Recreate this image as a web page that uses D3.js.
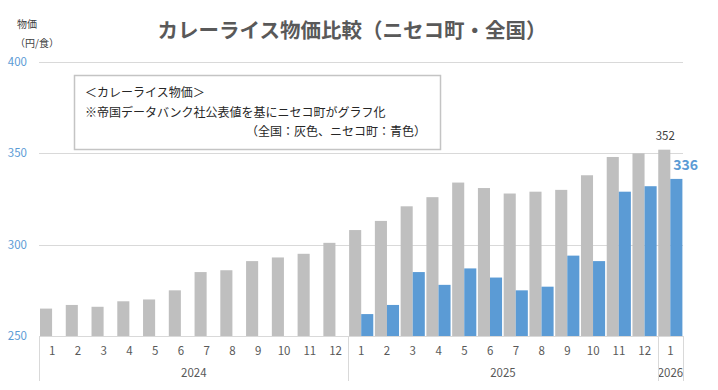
<!DOCTYPE html>
<meta charset="utf-8">
<title>カレーライス物価比較</title>
<style>
    body {
        margin: 0;
        font-family: "Noto Sans CJK JP", "Noto Sans", sans-serif;
        background: #fff;
    }

    .grid line,
    .axis-line {
        stroke: #d9d9d9;
        stroke-width: 1;
        shape-rendering: crispEdges;
    }
</style>

<body>
    <div id="chart"></div>
    <script src="https://d3js.org/d3.v7.min.js"></script>

    <script>
        // months along the x axis (2024-1 .. 2026-1)
        var months = ["1", "2", "3", "4", "5", "6", "7", "8", "9", "10", "11", "12",
            "1", "2", "3", "4", "5", "6", "7", "8", "9", "10", "11", "12", "1"];
        var years = ["2024", "2025", "2026"];
        var yearSpans = [12, 12, 1];

        // 全国 (grey)
        var national = [265, 267, 266, 269, 270, 275, 285, 286, 291, 293, 295, 301,
            308, 313, 321, 326, 334, 331, 328, 329, 330, 338, 348, 350, 352];
        // ニセコ町 (blue), no data for 2024
        var niseko = [null, null, null, null, null, null, null, null, null, null, null, null,
            262, 267, 285, 278, 287, 282, 275, 277, 294, 291, 329, 332, 336];

        var yTicks = [250, 300, 350, 400];

        var width = 718,
            height = 390,
            plot = { left: 39.3, right: 683.3, top: 62, bottom: 336 };

        var colorNational = "#bfbfbf",
            colorNiseko = "#5b9bd5",
            textColor = "#595959";

        var svg = d3.select("#chart")
            .append("svg")
            .attr("width", width)
            .attr("height", height);

        var keys = months.map((m, i) => i);

        var xScale = d3.scaleBand().domain(keys).range([plot.left, plot.right]).padding(0);
        var xInner = d3.scaleBand().domain(["national", "niseko"]).range([0.7, xScale.bandwidth() - 0.9]);
        var yScale = d3.scaleLinear().domain([250, 400]).range([plot.bottom, plot.top]);

        // gridlines
        svg.append("g")
            .attr("class", "grid")
            .selectAll("line")
            .data(yTicks.slice(1))
            .enter().append("line")
            .attr("x1", plot.left)
            .attr("x2", plot.right)
            .attr("y1", d => Math.round(yScale(d)) + 0.5)
            .attr("y2", d => Math.round(yScale(d)) + 0.5);

        // y tick labels
        svg.append("g")
            .selectAll("text")
            .data(yTicks)
            .enter().append("text")
            .attr("x", 27)
            .attr("y", d => yScale(d))
            .attr("dy", "0.35em")
            .attr("text-anchor", "end")
            .style("font-size", "11.5px")
            .style("fill", colorNiseko)
            .text(d => d);

        // bars
        var rows = keys.map(i => ({ i: i, national: national[i], niseko: niseko[i] }));

        var group = svg.selectAll(".month")
            .data(rows)
            .enter().append("g")
            .attr("class", "month")
            .attr("transform", d => `translate(${xScale(d.i)},0)`);

        group.append("rect")
            .attr("x", xInner("national"))
            .attr("y", d => yScale(d.national))
            .attr("width", xInner.bandwidth())
            .attr("height", d => yScale(250) - yScale(d.national))
            .style("fill", colorNational);

        group.filter(d => d.niseko != null)
            .append("rect")
            .attr("x", xInner("niseko"))
            .attr("y", d => yScale(d.niseko))
            .attr("width", xInner.bandwidth())
            .attr("height", d => yScale(250) - yScale(d.niseko))
            .style("fill", colorNiseko);

        // x axis line
        svg.append("line")
            .attr("class", "axis-line")
            .attr("x1", plot.left)
            .attr("x2", plot.right)
            .attr("y1", plot.bottom + 0.5)
            .attr("y2", plot.bottom + 0.5);

        // month labels
        svg.append("g")
            .selectAll("text")
            .data(keys)
            .enter().append("text")
            .attr("x", d => xScale(d) + xScale.bandwidth() / 2)
            .attr("y", 355)
            .attr("text-anchor", "middle")
            .style("font-size", "11.5px")
            .style("fill", textColor)
            .text(d => months[d]);

        // year groups + separators
        var start = 0;
        var bounds = [0];
        years.forEach((y, j) => {
            var x0 = xScale(start),
                x1 = xScale(start + yearSpans[j] - 1) + xScale.bandwidth();
            svg.append("text")
                .attr("x", (x0 + x1) / 2)
                .attr("y", 377)
                .attr("text-anchor", "middle")
                .style("font-size", "11.5px")
                .style("fill", textColor)
                .text(y);
            start += yearSpans[j];
            bounds.push(start);
        });
        svg.append("g")
            .selectAll("line")
            .data(bounds)
            .enter().append("line")
            .attr("class", "axis-line")
            .attr("x1", d => Math.round(d < keys.length ? xScale(d) : plot.right) + 0.5)
            .attr("x2", d => Math.round(d < keys.length ? xScale(d) : plot.right) + 0.5)
            .attr("y1", plot.bottom)
            .attr("y2", 381);

        // data labels on last month
        var last = keys.length - 1;
        svg.append("text")
            .attr("x", xScale(last) + xInner("national") + xInner.bandwidth() / 2 + 1)
            .attr("y", yScale(national[last]) - 10)
            .attr("text-anchor", "middle")
            .style("font-size", "11.5px")
            .style("fill", "#404040")
            .text(national[last]);
        svg.append("text")
            .attr("x", xScale(last) + xInner("niseko") + 3)
            .attr("y", yScale(niseko[last]) - 9)
            .style("font-size", "14px")
            .style("font-weight", "bold")
            .style("fill", colorNiseko)
            .text(niseko[last]);

        // title
        svg.append("text")
            .attr("x", 352)
            .attr("y", 38)
            .attr("text-anchor", "middle")
            .style("font-size", "20.5px")
            .style("font-weight", "bold")
            .style("fill", textColor)
            .text("カレーライス物価比較（ニセコ町・全国）");

        // y axis title
        svg.append("text")
            .attr("x", 17)
            .attr("y", 28)
            .style("font-size", "10px")
            .style("fill", "#404040")
            .text("物価");
        svg.append("text")
            .attr("x", 15)
            .attr("y", 47)
            .style("font-size", "10px")
            .style("fill", "#404040")
            .text("（円/食）");

        // note box
        svg.append("rect")
            .attr("x", 74.5)
            .attr("y", 75.5)
            .attr("width", 366)
            .attr("height", 74)
            .style("fill", "#fff")
            .style("stroke", "#c4c4c4")
            .style("stroke-width", 1.5);
        svg.append("text")
            .attr("x", 85)
            .attr("y", 97)
            .style("font-size", "12px")
            .style("fill", "#262626")
            .text("＜カレーライス物価＞");
        svg.append("text")
            .attr("x", 85)
            .attr("y", 117)
            .style("font-size", "12px")
            .style("fill", "#262626")
            .text("※帝国データバンク社公表値を基にニセコ町がグラフ化");
        svg.append("text")
            .attr("x", 426)
            .attr("y", 136)
            .attr("text-anchor", "end")
            .style("font-size", "12px")
            .style("fill", "#262626")
            .text("（全国：灰色、ニセコ町：青色）");
    </script>
</body>
